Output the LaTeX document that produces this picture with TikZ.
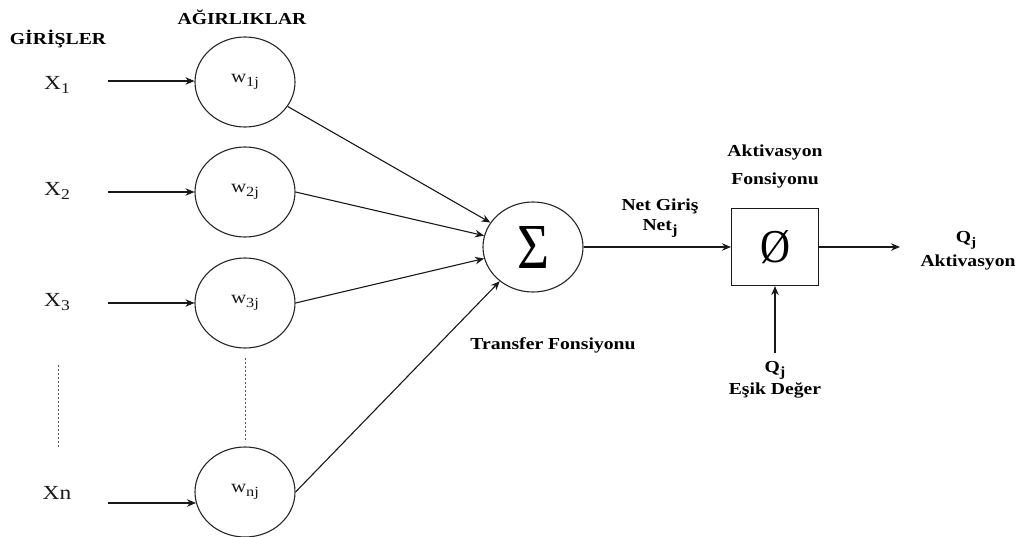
\documentclass[tikz,border=0pt]{standalone}
\usepackage{fontspec}
\setmainfont{Liberation Serif}[FakeStretch=1.17]
\usetikzlibrary{arrows.meta,shapes.geometric}
\newcommand\lowsub[2][13]{\raisebox{-4pt}{\fontsize{#1}{#1}\selectfont #2}}
\begin{document}
\begin{tikzpicture}[x=1pt,y=-1pt,
  lbl/.style={font=\fontsize{16.8}{20}\selectfont\bfseries, inner sep=0, text=black},
  inp/.style={font=\fontsize{20}{22}\selectfont, inner sep=0, text=black!90},
  wnode/.style={draw=black!85, ellipse, minimum width=100pt, minimum height=90pt, inner sep=0, line width=1.1pt, font=\fontsize{18}{20}\selectfont, text=black!90},
  arr/.style={-{Stealth[length=9pt,width=7.5pt]}, line width=1.1pt, draw=black!90},
  dots/.style={dash pattern=on 2pt off 2pt, line width=1pt, draw=black!65}]
\useasboundingbox (0,0) rectangle (1019,537);
% headings
\node[lbl] (gir) at (58,39) {GİRİŞLER};
\node[lbl] (agr) at (242,17) {AĞIRLIKLAR};
% inputs
\node[inp] (x1) at (57,85) {X\lowsub[15]{1}};
\node[inp] (x2) at (57,191) {X\lowsub[15]{2}};
\node[inp] (x3) at (57,302) {X\lowsub[15]{3}};
\node[inp] (xn) at (57,493) {Xn};
% weights
\node[wnode] (w1) at (245,82) {w\lowsub[14]{1j}};
\node[wnode] (w2) at (245,192) {w\lowsub[14]{2j}};
\node[wnode] (w3) at (245,303) {w\lowsub[14]{3j}};
\node[wnode] (wn) at (245,492) {w\lowsub[14]{nj}};
% arrow starts
\coordinate (s1) at (108,81);
\coordinate (s2) at (108,192);
\coordinate (s3) at (108,303);
\coordinate (sn) at (108,503);
\draw[arr] (s1) -- (s1 -| w1.west);
\draw[arr] (s2) -- (s2 -| w2.west);
\draw[arr] (s3) -- (s3 -| w3.west);
\draw[arr] (sn) -- ([xshift=1.5pt]sn -| wn.west);
% dotted lines
\draw[dots] (58,365) -- (58,447);
\draw[dots] (245,358) -- (245,442);
% sum
\node[draw=black!85, ellipse, minimum width=100pt, minimum height=90pt, inner sep=0, line width=1.1pt] (sig) at (533,247) {\resizebox{32pt}{42pt}{Σ}};
\draw[arr] (w1) -- (sig);
\draw[arr] (w2.east) -- (sig);
\draw[arr] (w3.east) -- (sig);
\draw[arr] (wn.east) -- (sig);
\node[lbl] (tf) at (553,345) {Transfer Fonsiyonu};
% activation box
\node[draw=black!90, minimum width=87pt, minimum height=77pt, inner sep=0, line width=1.1pt] (box) at (775,247) {\resizebox{30pt}{32pt}{Ø}};
\draw[arr] (sig) -- (box);
\node[lbl] (ng) at (660,206) {Net Giriş};
\node[lbl] (nj) at (660,228) {Net\lowsub[14]{j}};
\node[lbl] (ak1) at (775,152) {Aktivasyon};
\node[lbl] (ak2) at (775,180) {Fonsiyonu};
\coordinate (out) at (900,247);
\draw[arr] (box) -- (out);
\node[lbl] (qo) at (966,240) {Q\lowsub[13]{j}};
\node[lbl] (ako) at (968,262) {Aktivasyon};
\coordinate (th) at (775,353);
\draw[arr] (th) -- (box);
\node[lbl] (qt) at (775,370) {Q\lowsub[14]{j}};
\node[lbl] (es) at (775,390) {Eşik Değer};
\end{tikzpicture}
\end{document}
